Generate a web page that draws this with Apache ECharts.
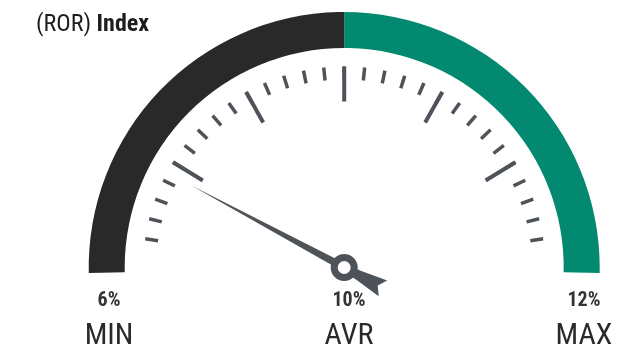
<!DOCTYPE html>
<html>
<head>
<meta charset="utf-8">
<script src="https://cdn.jsdelivr.net/npm/echarts@6/dist/echarts.min.js"></script>
<style>
  html, body { margin: 0; padding: 0; background: #fff; }
  #chart { width: 637px; height: 352px; }
</style>
</head>
<body>
<div id="chart"></div>
<script>
// Gauge values
const markNames = ['MIN', 'AVR', 'MAX'];
const markValues = [6, 10, 12];
const currentValue = 6.97;

const FONT = '"Roboto Condensed", "Liberation Sans Narrow", "DejaVu Sans Condensed", Roboto, sans-serif';
const INK = '#4d5358';
const CENTER = [344.2, 267.5];

const chart = echarts.init(document.getElementById('chart'), null, { renderer: 'canvas' });

const hidden = {
  axisLabel: { show: false },
  pointer: { show: false },
  anchor: { show: false },
  title: { show: false },
  detail: { show: false }
};

const option = {
  animation: false,
  title: {
    left: 31,
    top: 8,
    text: '{r|(ROR) }{b|Index}',
    textStyle: {
      rich: {
        r: { fontFamily: FONT, fontSize: 24, fontWeight: 'normal', color: '#1d1d1d' },
        b: { fontFamily: FONT, fontSize: 24, fontWeight: 'bold', color: '#1d1d1d' }
      }
    }
  },
  series: [
    // coloured band
    Object.assign({}, hidden, {
      type: 'gauge',
      center: CENTER,
      radius: 255.5,
      startAngle: 181.25,
      endAngle: -1.25,
      min: markValues[0],
      max: markValues[2],
      axisLine: {
        lineStyle: { width: 36, color: [[0.5, '#292929'], [1, '#02896f']] }
      },
      axisTick: { show: false },
      splitLine: { show: false },
      pointer: {
        show: true,
        icon: 'path://M9 0 L13 174 L14 190 L18 218 L9 212 L0 218 L4 190 L5 174 Z',
        length: 218,
        width: 18,
        offsetCenter: [0, 44],
        itemStyle: { color: INK }
      },
      anchor: {
        show: true,
        showAbove: true,
        size: 20,
        itemStyle: { color: '#fff', borderColor: INK, borderWidth: 7 }
      },
      data: [{ value: currentValue }]
    }),
    // minor ticks
    Object.assign({}, hidden, {
      type: 'gauge',
      center: CENTER,
      radius: 201,
      startAngle: 171.8,
      endAngle: 8.2,
      splitNumber: 28,
      axisLine: { show: false, lineStyle: { width: 0 } },
      axisTick: { show: false },
      splitLine: { show: true, distance: 0, length: 13, lineStyle: { width: 3.5, color: INK } },
      data: []
    }),
    // major ticks
    Object.assign({}, hidden, {
      type: 'gauge',
      center: CENTER,
      radius: 201,
      startAngle: 148.4,
      endAngle: 31.6,
      splitNumber: 4,
      axisLine: { show: false, lineStyle: { width: 0 } },
      axisTick: { show: false },
      splitLine: { show: true, distance: 0, length: 35, lineStyle: { width: 4, color: INK } },
      data: []
    })
  ],
  graphic: markNames.map((name, i) => {
    const x = [109, 349, 584][i];
    return {
      type: 'group',
      children: [
        {
          type: 'text', x: x, y: 301,
          style: {
            text: markValues[i] + '%', fontFamily: FONT, fontSize: 20, fontWeight: 'bold',
            fill: '#333', align: 'center', verticalAlign: 'middle'
          }
        },
        {
          type: 'text', x: x, y: 336,
          style: {
            text: name, fontFamily: FONT, fontSize: 30, fontWeight: 'normal',
            fill: '#2a2a2a', align: 'center', verticalAlign: 'middle'
          }
        }
      ]
    };
  })
};

chart.setOption(option);
</script>
</body>
</html>
